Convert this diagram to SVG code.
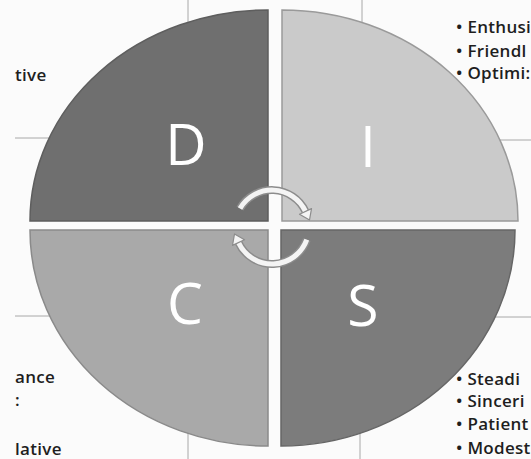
<svg xmlns="http://www.w3.org/2000/svg" width="531" height="459" viewBox="0 0 531 459">
  <style>
    .bg-line { stroke: #a8a8a8; stroke-width: 1; fill: none; }
    .txt { font-family: "Open Sans", "Liberation Sans", sans-serif; font-size: 17px; font-weight: 600; fill: #1e1e1e; letter-spacing: 0.3px; }
    .big { font-family: "Open Sans", "Liberation Sans", sans-serif; font-size: 57px; fill: #ffffff; text-anchor: middle; }
    .quad { stroke-width: 1.5; }
    .arc-under { fill: none; stroke: #8c8c8c; stroke-width: 8; stroke-linecap: butt; }
    .arc-over { fill: none; stroke: #f4f4f4; stroke-width: 5; stroke-linecap: butt; }
    .head { fill: #f4f4f4; stroke: #8c8c8c; stroke-width: 1.2; stroke-linejoin: round; }
  </style>
  <rect x="0" y="0" width="531" height="459" fill="#fbfbfb"/>
  <g id="background">
    <line class="bg-line" x1="188" y1="0" x2="188" y2="40"/>
    <line class="bg-line" x1="15" y1="138" x2="60" y2="138"/>
    <line class="bg-line" x1="362" y1="0" x2="362" y2="30"/>
    <line class="bg-line" x1="490" y1="140" x2="531" y2="140"/>
    <line class="bg-line" x1="15" y1="316" x2="60" y2="316"/>
    <line class="bg-line" x1="188" y1="415" x2="188" y2="459"/>
    <line class="bg-line" x1="490" y1="317" x2="531" y2="317"/>
    <line class="bg-line" x1="360" y1="420" x2="360" y2="459"/>
    <text class="txt" x="15" y="81">tive</text>
    <text class="txt" x="15" y="383">ance</text>
    <text class="txt" x="15" y="406">:</text>
    <text class="txt" x="15" y="455">lative</text>
    <text class="txt" x="456" y="33">• Enthusi</text>
    <text class="txt" x="456" y="57">• Friendl</text>
    <text class="txt" x="456" y="79">• Optimi:</text>
    <text class="txt" x="456" y="385" font-size="19" font-weight="700">• Steadi</text>
    <text class="txt" x="456" y="407">• Sinceri</text>
    <text class="txt" x="456" y="430">• Patient</text>
    <text class="txt" x="456" y="454">• Modest</text>
  </g>
  <g id="node-D">
    <path class="quad" d="M268,221 L30,221 A238,211 0 0 1 268,10 Z" fill="#6f6f6f" stroke="#5e5e5e"/>
    <text class="big" x="186" y="165">D</text>
  </g>
  <g id="node-I">
    <path class="quad" d="M282,221 L282,10 A236,211 0 0 1 518,221 Z" fill="#cacaca" stroke="#9a9a9a"/>
    <text class="big" x="368" y="167">I</text>
  </g>
  <g id="node-C">
    <path class="quad" d="M268,230 L268,446 A238,216 0 0 1 30,230 Z" fill="#a9a9a9" stroke="#8a8a8a"/>
    <text class="big" x="185" y="324">C</text>
  </g>
  <g id="node-S">
    <path class="quad" d="M281,230 L515,230 A234,216 0 0 1 281,446 Z" fill="#7c7c7c" stroke="#666666"/>
    <text class="big" x="363" y="326">S</text>
  </g>
  <g id="connectors">
    <path class="arc-under" d="M240,208.5 A37,37 0 0 1 305.5,211.4"/>
    <path class="arc-over" d="M240,208.5 A37,37 0 0 1 305.5,211.4"/>
    <polygon class="head" points="309.5,220 311.5,208.6 299.5,214.2"/>
    <path class="arc-under" d="M306.8,239.7 A37,37 0 0 1 238.5,242.6"/>
    <path class="arc-over" d="M306.8,239.7 A37,37 0 0 1 238.5,242.6"/>
    <polygon class="head" points="234.5,234 232.5,245.4 244.5,239.8"/>
  </g>
</svg>
